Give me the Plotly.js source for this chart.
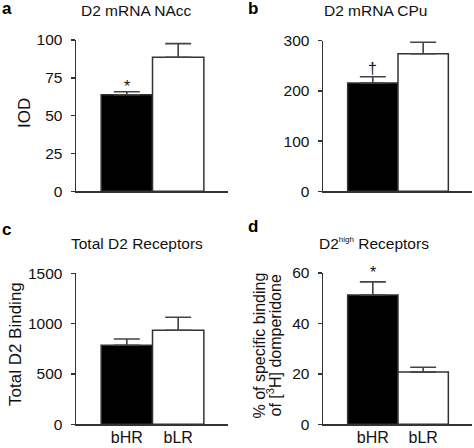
<!DOCTYPE html>
<html>
<head>
<meta charset="utf-8">
<script src="https://cdn.plot.ly/plotly-3.0.1.min.js"></script>
<style>html,body{margin:0;padding:0;background:#fff;}#chart{width:474px;height:448px;}</style>
</head>
<body>
<div id="chart"></div>
<script>
// ---- data ----
const groups = ['bHR', 'bLR'];
const naccMean = [63.8, 88.6];
const naccErr = [2.0, 9.0];
const cpuMean = [215.7, 274];
const cpuErr = [12.6, 22.8];
const totalMean = [785, 934];
const totalErr = [62, 129];
const highMean = [51.3, 20.7];
const highErr = [5.2, 1.9];
const barColors = ['#000000', '#ffffff'];
const panelTitles = ['D2 mRNA NAcc', 'D2 mRNA CPu', 'Total D2 Receptors', 'D2<sup><span style="font-size:8px">high</span></sup> Receptors'];
const panelLetters = ['a', 'b', 'c', 'd'];
const yTicksA = [0, 25, 50, 75, 100];
const yTicksB = [0, 100, 200, 300];
const yTicksC = [0, 500, 1000, 1500];
const yTicksD = [0, 20, 40, 60];
const marksA = ['*', ''];
const marksB = ['\u2020', ''];
const marksD = ['*', ''];

const W = 474, H = 448;
const FONT = 'Liberation Sans, Arial, Helvetica, sans-serif';
const AX = '#333333';

function trace(mean, err, xa, ya) {
  return {
    type: 'bar', x: groups, y: mean, xaxis: xa, yaxis: ya,
    marker: {color: barColors, line: {color: AX, width: 1.5}},
    error_y: {type: 'data', array: err, symmetric: false, arrayminus: [0, 0], color: '#444', thickness: 1.6, width: 13},
    hoverinfo: 'none', showlegend: false
  };
}

function px(x) { return x / W; }
function py(y) { return 1 - y / H; }

function xax(l, r, showLabels) {
  return {
    domain: [px(l), px(r)], range: [-0.99, 1.97], type: 'category',
    showline: true, linecolor: AX, linewidth: 1.5, ticks: '', showgrid: false, zeroline: false,
    showticklabels: showLabels, tickfont: {family: FONT, size: 16, color: '#111'}, ticklabelstandoff: -2
  };
}
function yax(t, b, ticks) {
  return {
    domain: [py(b), py(t)], range: [0, ticks[ticks.length - 1]], tickvals: ticks,
    showline: true, linecolor: AX, linewidth: 1.5, ticks: 'outside', ticklen: 4, tickwidth: 1.5, tickcolor: AX,
    showgrid: false, zeroline: false, tickfont: {family: FONT, size: 15.5, color: '#111'}, ticklabelstandoff: 5
  };
}

const data = [
  trace(naccMean, naccErr, 'x', 'y'),
  trace(cpuMean, cpuErr, 'x2', 'y2'),
  trace(totalMean, totalErr, 'x3', 'y3'),
  trace(highMean, highErr, 'x4', 'y4')
];

const annotations = [];
function txt(text, x, y, size, opts) {
  annotations.push(Object.assign({text: text, x: px(x), y: py(y), xref: 'paper', yref: 'paper', showarrow: false,
    xanchor: 'center', yanchor: 'middle', font: {family: FONT, size: size, color: '#111'}}, opts || {}));
}
// panel letters
const letterFont = {family: FONT, size: 17, color: '#000', weight: 'bold'};
txt(panelLetters[0], 0, 8, 17, {xanchor: 'left', font: letterFont});
txt(panelLetters[1], 246, 8, 17, {xanchor: 'left', font: letterFont});
txt(panelLetters[2], 0, 229, 17, {xanchor: 'left', font: letterFont});
txt(panelLetters[3], 246, 226, 17, {xanchor: 'left', font: letterFont});
// panel titles
txt(panelTitles[0], 136, 11, 15.5);
txt(panelTitles[1], 375, 11, 15.5);
txt(panelTitles[2], 137, 244, 15.5);
txt(panelTitles[3], 374, 244, 15.5);
// y-axis titles
txt('IOD', 25, 113, 17, {textangle: -90});
txt('Total D2 Binding', 15, 344, 17, {textangle: -90});
txt('% of specific binding', 258.5, 346, 16, {textangle: -90});
txt('of [<sup>3</sup>H] domperidone', 274.5, 346, 16, {textangle: -90});
// significance marks
function marks(m, mean, err, xa, ya, shift) {
  m.forEach((s, i) => {
    if (!s) return;
    annotations.push({text: s, x: groups[i], y: mean[i] + err[i], xref: xa, yref: ya, showarrow: false,
      xanchor: 'center', yanchor: 'bottom', yshift: shift, font: {family: FONT, size: 16, color: '#111'}});
  });
}
marks(marksA, naccMean, naccErr, 'x', 'y', -5);
marks(marksB, cpuMean, cpuErr, 'x2', 'y2', -2);
marks(marksD, highMean, highErr, 'x4', 'y4', -1);

const layout = {
  width: W, height: H, margin: {l: 0, r: 0, t: 0, b: 0},
  paper_bgcolor: '#fff', plot_bgcolor: 'rgba(0,0,0,0)',
  bargap: 0, showlegend: false, font: {family: FONT, color: '#111'},
  xaxis: xax(76, 228, false), yaxis: yax(40, 191.3, yTicksA),
  xaxis2: xax(323, 472, false), yaxis2: yax(40.7, 191.3, yTicksB),
  xaxis3: xax(76, 228, true), yaxis3: yax(273.3, 424.3, yTicksC),
  xaxis4: xax(323, 472, true), yaxis4: yax(273, 424.3, yTicksD),
  annotations: annotations
};
layout.xaxis.anchor = 'y'; layout.yaxis.anchor = 'x';
layout.xaxis2.anchor = 'y2'; layout.yaxis2.anchor = 'x2';
layout.xaxis3.anchor = 'y3'; layout.yaxis3.anchor = 'x3';
layout.xaxis4.anchor = 'y4'; layout.yaxis4.anchor = 'x4';

Plotly.newPlot('chart', data, layout, {staticPlot: true, displayModeBar: false});
</script>
</body>
</html>
